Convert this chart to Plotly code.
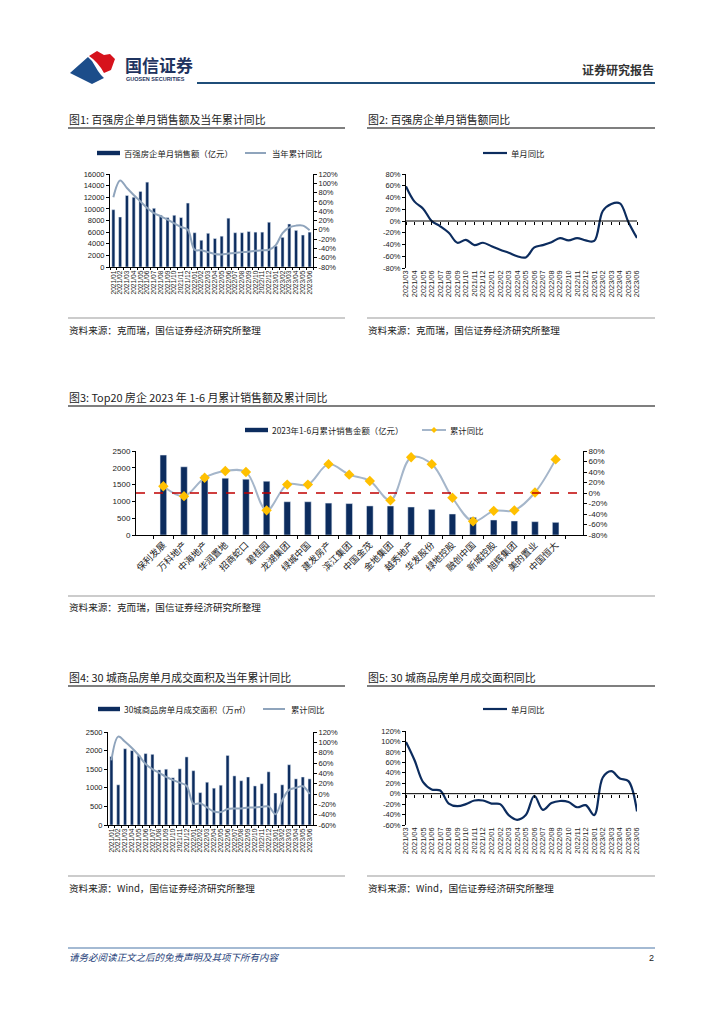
import plotly.graph_objects as go

# the page body keeps an 8px default margin: size the figure so it fills the 724x1024 window
OFF = 8
W, H = 724 - 2 * OFF, 1024 - 2 * OFF
def X(p): return (p - OFF) / W
def Y(p): return 1 - (p - OFF) / H

NUM = "Liberation Sans, Arial, Noto Sans CJK SC, sans-serif"
CJK = "Noto Sans CJK SC, Liberation Sans, sans-serif"
NAVY = "#0c2c5e"

# ---------------- data ----------------
months_a = ["2021/01", "2021/02", "2021/03", "2021/04", "2021/05", "2021/06", "2021/07", "2021/08",
            "2021/09", "2021/10", "2021/11", "2021/12", "2022/01", "2022/02", "2022/03", "2022/04",
            "2022/05", "2022/06", "2022/07", "2022/08", "2022/09", "2022/10", "2022/11", "2022/12",
            "2023/01", "2023/02", "2023/03", "2023/04", "2023/05", "2023/06"]
months_b = ["2021/03", "2021/04", "2021/05", "2021/06", "2021/07", "2021/08", "2021/09", "2021/10",
            "2021/11", "2021/12", "2022/01", "2022/02", "2022/03", "2022/04", "2022/05", "2022/06",
            "2022/07", "2022/08", "2022/09", "2022/10", "2022/11", "2022/12", "2023/01", "2023/02",
            "2023/03", "2023/04", "2023/05", "2023/06"]

# Fig 1
top100_sales = [9860, 8600, 12300, 12000, 13000, 14600, 10100, 8900, 8500, 8900, 8500, 11000,
                5900, 4600, 5800, 4900, 5300, 8400, 5900, 5900, 6100, 6000, 6000, 7700,
                3600, 5100, 7400, 6300, 5500, 6000]
top100_ytd_yoy = [70, 106, 90, 75, 61, 47, 36, 29, 22, 14, 6, 0,
                  -43, -44, -48, -52, -53, -51, -50, -48, -47, -45, -44, -43,
                  -33, -7, 5, 9, 9, -1]
# Fig 2
top100_mom_yoy = [59, 33, 21, 0, -9, -20, -37, -32, -41, -37,
                  -43, -49, -54, -60, -62, -45, -41, -36, -29, -33, -29, -33,
                  -34, 17, 29, 30, -2, -29]
# Fig 3
companies = ["保利发展", "万科地产", "中海地产", "华润置地", "招商蛇口", "碧桂园", "龙湖集团", "绿城中国",
             "建发房产", "滨江集团", "中国金茂", "金地集团", "越秀地产", "华发股份", "绿地控股", "融创中国",
             "新城控股", "旭辉集团", "美的置业", "中国恒大"]
h1_sales = [2380, 2030, 1770, 1690, 1660, 1600, 990, 990, 950, 935, 865, 863, 833, 764, 625, 526,
            446, 417, 397, 377]
h1_yoy = [13, -6, 29, 42, 40, -33, 16, 16, 55, 35, 23, -14, 68, 55, -9, -54, -34, -33, 1, 64]
# Fig 4
city30_area = [1840, 1080, 2050, 2000, 1870, 1920, 1900, 1480, 1500, 1270, 1510, 1830,
               1460, 870, 1150, 990, 1070, 1870, 1320, 1190, 1290, 1050, 1110, 1430,
               860, 1080, 1620, 1240, 1290, 1240]
city30_ytd_yoy = [65, 111, 101, 89, 75, 58, 48, 41, 33, 27, 22, 16,
                  -19, -18, -26, -34, -35, -29, -28, -28, -26, -26, -25, -24,
                  -39, -12, 8, 12, 15, 0]
# Fig 5
city30_mom_yoy = [99, 64, 22, 8, 6, -19, -24, -20, -13, -13,
                  -19, -20, -41, -50, -41, -4, -31, -18, -14, -16, -26, -22,
                  -41, 31, 43, 29, 24, -34]

# tick labels
t_sales16k = [0, 2000, 4000, 6000, 8000, 10000, 12000, 14000, 16000]
t_pct_m80_120 = [-80, -60, -40, -20, 0, 20, 40, 60, 80, 100, 120]
t_pct_m80_80 = [-80, -60, -40, -20, 0, 20, 40, 60, 80]
t_2500 = [0, 500, 1000, 1500, 2000, 2500]
t_pct_m60_120 = [-60, -40, -20, 0, 20, 40, 60, 80, 100, 120]

def pct(vals):
    return [f"{v}%" for v in vals]

fig = go.Figure()

# ---- Fig 1 ----
fig.add_bar(x=months_a, y=top100_sales, marker_color=NAVY, width=0.45, xaxis="x", yaxis="y")
fig.add_scatter(x=months_a, y=top100_ytd_yoy, mode="lines",
                line=dict(color="#8fa4bc", width=2, shape="spline", smoothing=1),
                xaxis="x", yaxis="y2")
# ---- Fig 2 ----
fig.add_scatter(x=months_b, y=top100_mom_yoy, mode="lines",
                line=dict(color=NAVY, width=2.2, shape="spline", smoothing=1),
                xaxis="x2", yaxis="y3")
fig.add_scatter(x=[0, 27], y=[0, 0], mode="lines", line=dict(color="black", width=1),
                xaxis="x6", yaxis="y3", hoverinfo="skip")
# ---- Fig 3 ----
fig.add_bar(x=companies, y=h1_sales, marker_color=NAVY, width=0.32, xaxis="x3", yaxis="y4")
fig.add_scatter(x=companies, y=h1_yoy, mode="lines+markers",
                line=dict(color="#a5b6ca", width=2, shape="spline", smoothing=1),
                marker=dict(symbol="diamond", color="#ffc000", size=8),
                xaxis="x3", yaxis="y5")
# ---- Fig 4 ----
fig.add_bar(x=months_a, y=city30_area, marker_color=NAVY, width=0.45, xaxis="x4", yaxis="y6")
fig.add_scatter(x=months_a, y=city30_ytd_yoy, mode="lines",
                line=dict(color="#8fa4bc", width=2, shape="spline", smoothing=1),
                xaxis="x4", yaxis="y7")
# ---- Fig 5 ----
fig.add_scatter(x=months_b, y=city30_mom_yoy, mode="lines",
                line=dict(color=NAVY, width=2.2, shape="spline", smoothing=1),
                xaxis="x5", yaxis="y8")
fig.add_scatter(x=[0, 27], y=[0, 0], mode="lines", line=dict(color="black", width=1),
                xaxis="x7", yaxis="y8", hoverinfo="skip")

tickf = dict(family=NUM, size=7.5, color="#222")
xf = dict(family=NUM, size=6.6, color="#222")
xf2 = dict(family=NUM, size=7.4, color="#222")
common_y = dict(showgrid=False, zeroline=False, showline=True, linecolor="black", linewidth=1,
                ticks="outside", ticklen=3, tickcolor="black", tickfont=tickf, automargin=False)
common_xcat = dict(type="category", showgrid=False, zeroline=False, showline=True, linecolor="black",
                   linewidth=1, ticks="outside", ticklen=2, tickcolor="black", tickson="boundaries",
                   tickangle=-90, tickfont=xf, tickmode="linear", dtick=1, automargin=False)

fig.update_layout(
    width=W, height=H, margin=dict(l=0, r=0, t=0, b=0), autosize=False,
    paper_bgcolor="white", plot_bgcolor="rgba(0,0,0,0)", showlegend=False,
    bargap=0.5,
    # Fig 1
    xaxis=dict(domain=[X(110), X(313)], anchor="y", **common_xcat),
    yaxis=dict(domain=[Y(267), Y(174)], anchor="x", range=[0, 16000],
               tickvals=t_sales16k, ticktext=[str(v) for v in t_sales16k], **common_y),
    yaxis2=dict(overlaying="y", side="right", anchor="x", range=[-80, 120],
                tickvals=t_pct_m80_120, ticktext=pct(t_pct_m80_120), **common_y),
    # Fig 2
    xaxis2=dict(domain=[X(406), X(637)], anchor="y3", type="category", range=[0, 27],
                tickmode="linear", dtick=1, automargin=False,
                showgrid=False, zeroline=False, showline=False, ticks="", tickangle=-90, tickfont=xf2),
    yaxis3=dict(domain=[Y(268), Y(174)], anchor="x2", range=[-80, 80],
                tickvals=t_pct_m80_80, ticktext=pct(t_pct_m80_80), **common_y),
    xaxis6=dict(overlaying="x2", anchor="free", position=Y(221), range=[0, 27], type="linear",
                tickmode="linear", tick0=0, dtick=1, ticks="outside", ticklen=3, tickcolor="black",
                showticklabels=False, showgrid=False, zeroline=False, showline=False, automargin=False),
    # Fig 3
    xaxis3=dict(domain=[X(136), X(583)], anchor="y4", type="category", showgrid=False, zeroline=False,
                showline=True, linecolor="black", linewidth=1, ticks="outside", ticklen=3,
                tickcolor="black", tickson="boundaries", tickangle=-45, automargin=False,
                tickfont=dict(family=CJK, size=9.2, color="#222")),
    yaxis4=dict(domain=[Y(535), Y(451)], anchor="x3", range=[0, 2500],
                tickvals=t_2500, ticktext=[str(v) for v in t_2500],
                **{**common_y, "tickfont": dict(family=NUM, size=8, color="#222")}),
    yaxis5=dict(overlaying="y4", side="right", anchor="x3", range=[-80, 80],
                tickvals=t_pct_m80_80, ticktext=pct(t_pct_m80_80),
                **{**common_y, "tickfont": dict(family=NUM, size=8, color="#222")}),
    # Fig 4
    xaxis4=dict(domain=[X(108), X(313)], anchor="y6", **common_xcat),
    yaxis6=dict(domain=[Y(825), Y(732)], anchor="x4", range=[0, 2500],
                tickvals=t_2500, ticktext=[str(v) for v in t_2500], **common_y),
    yaxis7=dict(overlaying="y6", side="right", anchor="x4", range=[-60, 120],
                tickvals=t_pct_m60_120, ticktext=pct(t_pct_m60_120), **common_y),
    # Fig 5
    xaxis5=dict(domain=[X(406), X(637)], anchor="y8", type="category", range=[0, 27],
                tickmode="linear", dtick=1, automargin=False,
                showgrid=False, zeroline=False, showline=False, ticks="", tickangle=-90, tickfont=xf2),
    yaxis8=dict(domain=[Y(825), Y(731)], anchor="x5", range=[-60, 120],
                tickvals=t_pct_m60_120, ticktext=pct(t_pct_m60_120), **common_y),
    xaxis7=dict(overlaying="x5", anchor="free", position=Y(825 - 94 / 3), range=[0, 27], type="linear",
                tickmode="linear", tick0=0, dtick=1, ticks="outside", ticklen=3, tickcolor="black",
                showticklabels=False, showgrid=False, zeroline=False, showline=False, automargin=False),
)

shapes = []
ann = []

def hline(x0, x1, y, color, width):
    shapes.append(dict(type="line", xref="paper", yref="paper", x0=X(x0), x1=X(x1), y0=Y(y), y1=Y(y),
                       line=dict(color=color, width=width)))

def text(x, y, s, size, color="#222", anchor="left", family=CJK):
    ann.append(dict(x=X(x), y=Y(y), xref="paper", yref="paper", text=s, showarrow=False,
                    xanchor=anchor, yanchor="middle", font=dict(family=family, size=size, color=color)))

def leg_bar(x0, x1, y):
    shapes.append(dict(type="rect", xref="paper", yref="paper", x0=X(x0), x1=X(x1), y0=Y(y + 2.2),
                       y1=Y(y - 2.2), fillcolor=NAVY, line=dict(width=0)))

def leg_line(x0, x1, y, color, width=2):
    hline(x0, x1, y, color, width)

def path(pts):
    return "M " + " L ".join(f"{X(a):.5f},{Y(b):.5f}" for a, b in pts) + " Z"

# header logo
shapes.append(dict(type="path", xref="paper", yref="paper",
                   path=path([(70, 73), (88, 57), (92, 61), (95, 66), (98, 71), (101, 75), (104, 78), (92, 84)]),
                   fillcolor="#1c4d8a", line=dict(width=0)))
shapes.append(dict(type="path", xref="paper", yref="paper",
                   path=path([(89, 56), (97, 51), (104, 55), (110, 54), (115, 59), (111, 70), (104, 73),
                              (101, 68), (97, 63), (93, 59)]),
                   fillcolor="#d6121c", line=dict(width=0)))
text(123, 64, "<b>国信证券</b>", 17, color="#1f3460")
text(124, 79, "<b>GUOSEN SECURITIES</b>", 5.5, color="#1f3460", family=NUM)
hline(197, 655, 83, "#1f4e79", 2)
text(656, 69, "<b>证券研究报告</b>", 12, color="#333", anchor="right")

# section titles & rules
TS, SS = 10.9, 9.6
text(67, 119, "图1: 百强房企单月销售额及当年累计同比", TS)
text(366, 119, "图2: 百强房企单月销售额同比", TS)
hline(68, 345, 128, "#555", 1.5)
hline(367, 655, 128, "#555", 1.5)
hline(68, 345, 318, "#999", 1)
hline(367, 655, 318, "#999", 1)
text(67, 330, "资料来源：克而瑞，国信证券经济研究所整理", SS)
text(366, 330, "资料来源：克而瑞，国信证券经济研究所整理", SS)

text(67, 397, "图3: Top20 房企 2023 年 1-6 月累计销售额及累计同比", TS)
hline(68, 655, 406, "#555", 1.5)
hline(68, 655, 596, "#999", 1)
text(67, 607, "资料来源：克而瑞，国信证券经济研究所整理", SS)

text(67, 677, "图4: 30 城商品房单月成交面积及当年累计同比", TS)
text(366, 677, "图5: 30 城商品房单月成交面积同比", TS)
hline(68, 345, 686, "#555", 1.5)
hline(367, 655, 686, "#555", 1.5)
hline(68, 345, 876, "#999", 1)
hline(367, 655, 876, "#999", 1)
text(67, 888, "资料来源：Wind，国信证券经济研究所整理", SS)
text(366, 888, "资料来源：Wind，国信证券经济研究所整理", SS)

# legends
LS = 8.4
leg_bar(97, 120, 153)
text(122, 153, "百强房企单月销售额（亿元）", LS)
leg_line(245, 266, 153, "#8fa4bc")
text(270, 153, "当年累计同比", LS)
leg_line(483, 507, 153, NAVY, 2.2)
text(509, 153, "单月同比", LS)

leg_bar(245, 268, 430)
text(270, 430, "2023年1-6月累计销售金额（亿元）", LS)
leg_line(422, 446, 430, "#a5b6ca")
shapes.append(dict(type="path", xref="paper", yref="paper",
                   path=path([(434, 427), (437, 430), (434, 433), (431, 430)]),
                   fillcolor="#ffc000", line=dict(width=0)))
text(448, 430, "累计同比", LS)

leg_bar(98, 120, 709)
text(122, 709, "30城商品房单月成交面积（万㎡）", LS)
leg_line(263, 285, 709, "#8fa4bc")
text(289, 709, "累计同比", LS)
leg_line(483, 507, 709, NAVY, 2.2)
text(509, 709, "单月同比", LS)

# red dashed 0% line in fig 3
shapes.append(dict(type="line", xref="x3 domain", x0=0, x1=1, yref="y5", y0=0, y1=0,
                   line=dict(color="#c00000", width=1.6, dash="dash"), layer="above"))

# footer
hline(68, 655, 948, "#4a77a8", 1.2)
text(67, 957, "<i>请务必阅读正文之后的免责声明及其项下所有内容</i>", 9.5, color="#1f3f7a")
text(656, 958, "2", 9, color="#222", anchor="right", family=NUM)

fig.update_layout(shapes=shapes, annotations=ann)
fig.write_html("out.html")
